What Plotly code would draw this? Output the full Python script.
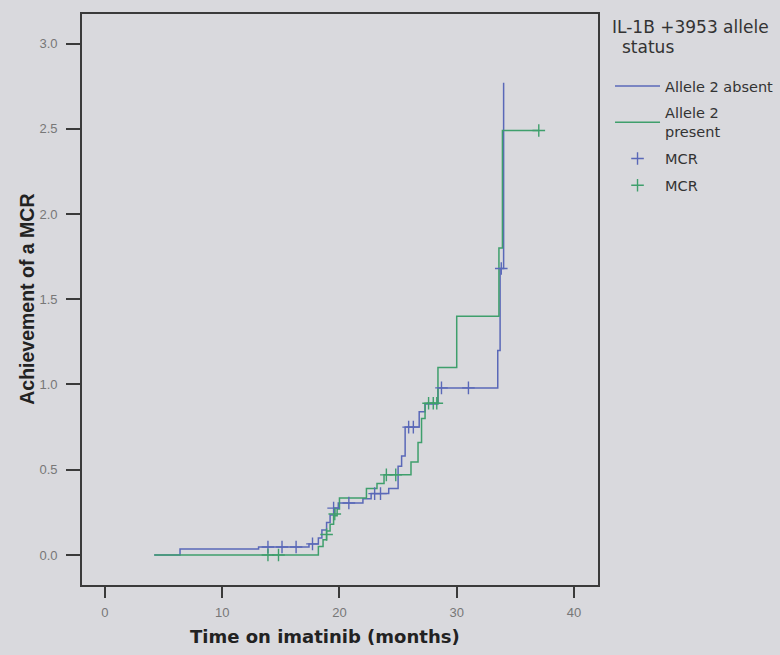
import plotly.graph_objects as go

# ---- data ----
# Allele 2 absent: cumulative hazard step curve
absent_time = [4.2, 6.4, 13.1, 17.4, 18.2, 18.5, 18.9, 19.2, 19.6, 19.9, 22.0, 22.7,
               24.2, 25.0, 25.3, 25.6, 26.8, 27.3, 28.4, 33.5, 33.7, 34.0]
absent_value = [0.0, 0.035, 0.047, 0.065, 0.10, 0.147, 0.19, 0.235, 0.275, 0.305, 0.33, 0.36,
                0.39, 0.52, 0.58, 0.75, 0.84, 0.885, 0.98, 1.20, 1.68, 2.77]
absent_cens_time = [13.9, 15.1, 16.3, 17.7, 19.5, 20.8, 23.0, 23.5, 25.9, 26.3, 28.7, 31.0, 33.8]
absent_cens_value = [0.047, 0.047, 0.047, 0.065, 0.275, 0.305, 0.36, 0.36, 0.75, 0.75, 0.98, 0.98, 1.68]

# Allele 2 present
present_time = [4.2, 18.2, 18.6, 18.9, 19.2, 19.5, 19.8, 20.0, 22.3, 23.2, 23.8,
                26.1, 26.7, 27.0, 27.3, 28.4, 30.0, 33.6, 33.9, 37.0]
present_value = [0.0, 0.05, 0.09, 0.14, 0.18, 0.23, 0.27, 0.335, 0.39, 0.42, 0.47,
                 0.545, 0.66, 0.80, 0.89, 1.10, 1.40, 1.80, 2.49, 2.49]
present_cens_time = [13.9, 14.8, 18.9, 19.6, 24.0, 24.8, 27.6, 28.0, 28.3, 37.0]
present_cens_value = [0.0, 0.0, 0.12, 0.24, 0.47, 0.47, 0.89, 0.89, 0.89, 2.49]

x_ticks = [0, 10, 20, 30, 40]
y_ticks = [0.0, 0.5, 1.0, 1.5, 2.0, 2.5, 3.0]

BLUE = "#5a68b8"
GREEN = "#3f9f6c"
BG = "#d9d9dd"

fig = go.Figure()
fig.add_trace(go.Scatter(x=absent_time, y=absent_value, mode="lines", line_shape="hv",
                         line=dict(color=BLUE, width=1.5), name="Allele 2 absent",
                         legendgroup="a"))
fig.add_trace(go.Scatter(x=present_time, y=present_value, mode="lines", line_shape="hv",
                         line=dict(color=GREEN, width=1.5), name="Allele 2<br>present",
                         legendgroup="b"))
fig.add_trace(go.Scatter(x=absent_cens_time, y=absent_cens_value, mode="markers",
                         marker=dict(symbol="cross-thin", size=9, line=dict(color=BLUE, width=1.4)),
                         name="MCR", legendgroup="c"))
fig.add_trace(go.Scatter(x=present_cens_time, y=present_cens_value, mode="markers",
                         marker=dict(symbol="cross-thin", size=9, line=dict(color=GREEN, width=1.4)),
                         name="MCR", legendgroup="d"))

axis_common = dict(showgrid=False, zeroline=False, showline=True, mirror=True,
                   linecolor="#3a3a3a", linewidth=1.6, ticks="outside", tickcolor="#3a3a3a",
                   tickwidth=1.5, tickfont=dict(family="Arial", size=13, color="#777777"))
fig.update_xaxes(range=[-1.96, 42.05], tickvals=x_ticks, ticktext=[str(v) for v in x_ticks],
                 ticklen=11, ticklabelstandoff=4, **axis_common)
fig.update_yaxes(range=[-0.176, 3.173], tickvals=y_ticks, ticktext=[f"{v:.1f}" for v in y_ticks],
                 ticklen=14, ticklabelstandoff=6, **axis_common)

fig.update_layout(
    width=780, height=655,
    margin=dict(l=82, r=182, t=14, b=70, autoexpand=False),
    paper_bgcolor=BG, plot_bgcolor=BG,
    showlegend=True,
    legend=dict(x=1.0233, xanchor="left", y=0.902, yanchor="top", bgcolor="rgba(0,0,0,0)",
                font=dict(family="DejaVu Sans", size=14.5, color="#333333"), tracegroupgap=5,
                itemwidth=45),
    annotations=[
        dict(text="Time on imatinib (months)", xref="paper", yref="paper", x=0.47, y=-0.068,
             xanchor="center", yanchor="top", showarrow=False,
             font=dict(family="DejaVu Sans", size=18, color="#222222", weight="bold")),
        dict(text="Achievement of a MCR", xref="paper", yref="paper", x=-0.108, y=0.5,
             xanchor="center", yanchor="middle", textangle=-90, showarrow=False,
             font=dict(family="Arial", size=19.5, color="#222222", weight="bold")),
        dict(text="IL-1B +3953 allele", xref="paper", yref="paper", x=1.023, y=0.977,
             xanchor="left", yanchor="middle", showarrow=False,
             font=dict(family="DejaVu Sans", size=17, color="#333333")),
        dict(text="status", xref="paper", yref="paper", x=1.097, y=0.942,
             xanchor="center", yanchor="middle", showarrow=False,
             font=dict(family="DejaVu Sans", size=17, color="#333333")),
    ],
)

fig.write_html("out.html", config={"displayModeBar": False},
               post_script="document.body.style.margin='0';")
